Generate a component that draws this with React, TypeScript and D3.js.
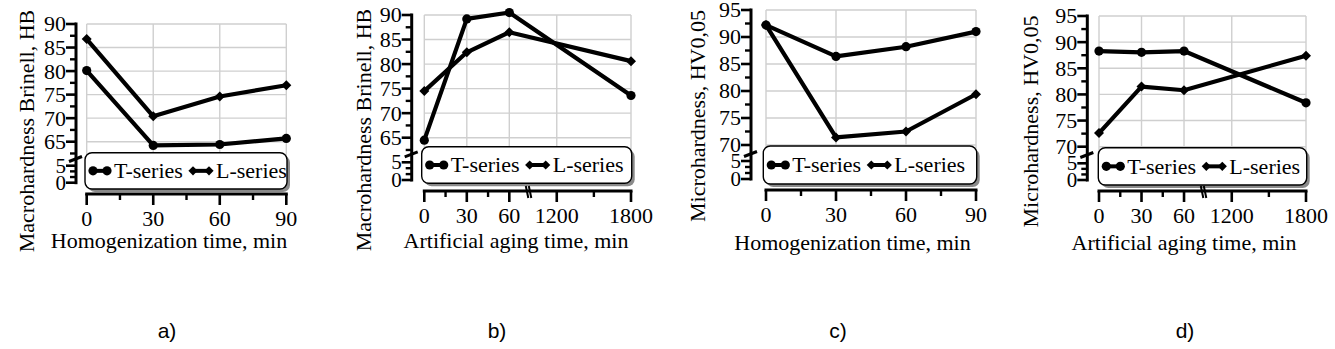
import React from "react";
import * as d3 from "d3";

// ---------- DATA ----------
const homogTimes = [0, 30, 60, 90];
const agingTimes = [0, 30, 60, 1800];

const aT = [80.1, 64.2, 64.4, 65.7];
const aL = [86.8, 70.4, 74.6, 77.0];
const bT = [64.5, 89.2, 90.5, 73.6];
const bL = [74.5, 82.4, 86.5, 80.6];
const cT = [92.2, 86.4, 88.2, 91.0];
const cL = [92.2, 71.4, 72.5, 79.4];
const dT = [88.3, 88.05, 88.3, 78.4];
const dL = [72.6, 81.5, 80.8, 87.4];

const homogTicks = [0, 30, 60, 90];
const homogMinor = [15, 45, 75];
const agingTicks = [0, 30, 60, 1200, 1800];
const agingMinor = [15, 45, 1500];

const hbTicks = [65, 70, 75, 80, 85, 90];
const hvTicks = [70, 75, 80, 85, 90, 95];
const lowTicks = [0, 5];
const lowMinor = [5 / 3, 10 / 3];

const seriesNames = ["T-series", "L-series"];
const panelLabels = ["a)", "b)", "c)", "d)"];
const yTitles = ["Macrohardness Brinell, HB", "Macrohardness Brinell, HB", "Microhardness, HV0,05", "Microhardness, HV0,05"];
const xTitles = ["Homogenization time, min", "Artificial aging time, min", "Homogenization time, min", "Artificial aging time, min"];

// ---------- LAYOUT ----------
const SERIF = "'Liberation Serif', 'Times New Roman', serif";
const SANS = "'Liberation Sans', Arial, sans-serif";

type Panel = {
  xs: number[]; T: number[]; L: number[];
  xTicks: number[]; xMinor: number[];
  xDomain: number[]; xRange: number[]; breakX?: number;
  yTicks: number[]; yHiPx: number; yLoPx: number; axisX: number; breakY: number;
  lowZero: number; lowFive: number; xAxisY: number;
  legend: [number, number, number, number];
  yTitle: string; xTitle: string; yTitleX: number; yTitleY: number; xTitleX: number; xTitleY: number;
  label: string; labelX: number;
};

const panels: Panel[] = [
  {
    xs: homogTimes, T: aT, L: aL, xTicks: homogTicks, xMinor: homogMinor,
    xDomain: [0, 90], xRange: [86.7, 286.3],
    yTicks: hbTicks, yHiPx: 24, yLoPx: 141.7, axisX: 76, breakY: 159,
    lowZero: 182.7, lowFive: 165.7, xAxisY: 194,
    legend: [85, 152.7, 202, 36.3],
    yTitle: yTitles[0], xTitle: xTitles[0], yTitleX: 27, yTitleY: 131, xTitleX: 169, xTitleY: 248,
    label: panelLabels[0], labelX: 167,
  },
  {
    xs: agingTimes, T: bT, L: bL, xTicks: agingTicks, xMinor: agingMinor,
    xDomain: [0, 73.4, 970, 1800], xRange: [424.3, 528.3, 528.3, 631], breakX: 528.3,
    yTicks: hbTicks, yHiPx: 15, yLoPx: 137.7, axisX: 411.7, breakY: 154.3,
    lowZero: 180, lowFive: 162.3, xAxisY: 191,
    legend: [421.7, 146.7, 210, 36.6],
    yTitle: yTitles[1], xTitle: xTitles[1], yTitleX: 363.3, yTitleY: 130, xTitleX: 516, xTitleY: 248,
    label: panelLabels[1], labelX: 497,
  },
  {
    xs: homogTimes, T: cT, L: cL, xTicks: homogTicks, xMinor: homogMinor,
    xDomain: [0, 90], xRange: [766, 976],
    yTicks: hvTicks, yHiPx: 10, yLoPx: 145, axisX: 751, breakY: 154,
    lowZero: 179, lowFive: 161, xAxisY: 190,
    legend: [763.3, 146, 213.4, 38],
    yTitle: yTitles[2], xTitle: xTitles[2], yTitleX: 698, yTitleY: 116, xTitleX: 852.5, xTitleY: 250,
    label: panelLabels[2], labelX: 838,
  },
  {
    xs: agingTimes, T: dT, L: dL, xTicks: agingTicks, xMinor: agingMinor,
    xDomain: [0, 73.6, 970, 1800], xRange: [1099, 1203.3, 1203.3, 1306], breakX: 1203.3,
    yTicks: hvTicks, yHiPx: 16, yLoPx: 146.7, axisX: 1087.3, breakY: 155,
    lowZero: 180, lowFive: 163.3, xAxisY: 191,
    legend: [1098.3, 147.7, 208.4, 37.3],
    yTitle: yTitles[3], xTitle: xTitles[3], yTitleX: 1030.7, yTitleY: 121.5, xTitleX: 1184, xTitleY: 250,
    label: panelLabels[3], labelX: 1185,
  },
];

const Diamond = ({ x, y, s }: { x: number; y: number; s: number }) => (
  <path d={`M${x},${y - s}L${x + s},${y}L${x},${y + s}L${x - s},${y}Z`} fill="#000" />
);

function PanelView({ p }: { p: Panel }) {
  const hi = p.yTicks[p.yTicks.length - 1];
  const lo = p.yTicks[0];
  const y = d3.scaleLinear().domain([lo, hi]).range([p.yLoPx, p.yHiPx]);
  const yLow = d3.scaleLinear().domain([0, 5]).range([p.lowZero, p.lowFive]);
  const x = d3.scaleLinear().domain(p.xDomain).range(p.xRange);
  const breakVal = y.invert(p.breakY);
  const yMinor: number[] = [];
  for (let v = hi - 2.5; v > breakVal; v -= 5) yMinor.push(v);
  const x0 = x(p.xTicks[0]);
  const x1 = x(p.xTicks[p.xTicks.length - 1]);
  const line = d3.line<number>().x((_, i) => x(p.xs[i])).y((v) => y(v));
  const [lx, ly, lw, lh] = p.legend;
  const ty = ly + lh / 2;

  return (
    <g>
      {/* grid */}
      {p.xTicks.map((t) => (
        <line key={"gx" + t} x1={x(t)} x2={x(t)} y1={p.yHiPx} y2={p.breakY + 8} stroke="#cfcfcf" strokeWidth={1.4} />
      ))}
      {[...p.yTicks, lo - 5].map((t) => (
        <line key={"gy" + t} x1={x0} x2={x1} y1={y(t)} y2={y(t)} stroke="#cfcfcf" strokeWidth={1.4} />
      ))}
      {/* lines */}
      <path d={line(p.L) || ""} fill="none" stroke="#000" strokeWidth={4.2} strokeLinejoin="round" />
      <path d={line(p.T) || ""} fill="none" stroke="#000" strokeWidth={4.2} strokeLinejoin="round" />
      {p.T.map((v, i) => (
        <circle key={"tc" + i} cx={x(p.xs[i])} cy={y(v)} r={4.6} fill="#000" />
      ))}
      {p.L.map((v, i) => (
        <Diamond key={"ld" + i} x={x(p.xs[i])} y={y(v)} s={5} />
      ))}
      {/* y axis */}
      <line x1={p.axisX} x2={p.axisX} y1={p.yHiPx - 1.5} y2={p.lowZero + 1.5} stroke="#000" strokeWidth={3} />
      {p.yTicks.map((t) => (
        <g key={"yt" + t}>
          <line x1={p.axisX - 10} x2={p.axisX} y1={y(t)} y2={y(t)} stroke="#000" strokeWidth={2.6} />
          <text x={p.axisX - 10} y={y(t)} dy="0.34em" textAnchor="end" fontFamily={SERIF} fontSize={22}>{t}</text>
        </g>
      ))}
      {yMinor.map((t) => (
        <line key={"ym" + t} x1={p.axisX - 6} x2={p.axisX} y1={y(t)} y2={y(t)} stroke="#000" strokeWidth={2.4} />
      ))}
      {lowTicks.map((t) => (
        <g key={"lt" + t}>
          <line x1={p.axisX - 10} x2={p.axisX} y1={yLow(t)} y2={yLow(t)} stroke="#000" strokeWidth={2.6} />
          <text x={p.axisX - 10} y={yLow(t)} dy="0.34em" textAnchor="end" fontFamily={SERIF} fontSize={21}>{t}</text>
        </g>
      ))}
      {lowMinor.map((t) => (
        <line key={"lm" + t} x1={p.axisX - 6} x2={p.axisX} y1={yLow(t)} y2={yLow(t)} stroke="#000" strokeWidth={2.4} />
      ))}
      {/* y break */}
      <line x1={p.axisX - 7} x2={p.axisX + 6} y1={p.breakY + 2.5} y2={p.breakY - 2.5} stroke="#000" strokeWidth={3} />
      {/* legend */}
      <rect x={lx + 3} y={ly + 3} width={lw} height={lh} rx={7} fill="#8a8a8a" />
      <rect x={lx} y={ly} width={lw} height={lh} rx={7} fill="#fff" stroke="#000" strokeWidth={1.4} />
      <line x1={lx + 8} x2={lx + 22} y1={ty} y2={ty} stroke="#000" strokeWidth={4} />
      <circle cx={lx + 8} cy={ty} r={4.6} fill="#000" />
      <circle cx={lx + 22} cy={ty} r={4.6} fill="#000" />
      <text x={lx + 29} y={ty} dy="0.34em" fontFamily={SERIF} fontSize={22}>{seriesNames[0]}</text>
      <line x1={lx + 108} x2={lx + 124} y1={ty} y2={ty} stroke="#000" strokeWidth={4} />
      <Diamond x={lx + 108} y={ty} s={4.6} />
      <Diamond x={lx + 124} y={ty} s={4.6} />
      <text x={lx + 131} y={ty} dy="0.34em" fontFamily={SERIF} fontSize={22}>{seriesNames[1]}</text>
      {/* x axis */}
      <line x1={x0 - 1.5} x2={x1 + 1.5} y1={p.xAxisY} y2={p.xAxisY} stroke="#000" strokeWidth={3} />
      {p.xTicks.map((t) => (
        <g key={"xt" + t}>
          <line x1={x(t)} x2={x(t)} y1={p.xAxisY} y2={p.xAxisY + 11} stroke="#000" strokeWidth={2.6} />
          <text x={x(t)} y={p.xAxisY + 32} textAnchor="middle" fontFamily={SERIF} fontSize={22}>{t}</text>
        </g>
      ))}
      {p.xMinor.map((t) => (
        <line key={"xm" + t} x1={x(t)} x2={x(t)} y1={p.xAxisY} y2={p.xAxisY + 6} stroke="#000" strokeWidth={2.4} />
      ))}
      {p.breakX !== undefined && (
        <g>
          <line x1={p.breakX - 2.5} x2={p.breakX} y1={p.xAxisY - 5} y2={p.xAxisY + 7} stroke="#000" strokeWidth={2} />
          <line x1={p.breakX + 0.5} x2={p.breakX + 3} y1={p.xAxisY - 5} y2={p.xAxisY + 7} stroke="#000" strokeWidth={2} />
        </g>
      )}
      {/* titles */}
      <text x={p.xTitleX} y={p.xTitleY} textAnchor="middle" fontFamily={SERIF} fontSize={22}>{p.xTitle}</text>
      <text transform={`translate(${p.yTitleX},${p.yTitleY}) rotate(-90)`} dy="0.34em" textAnchor="middle" fontFamily={SERIF} fontSize={22}>{p.yTitle}</text>
      <text x={p.labelX} y={338} textAnchor="middle" fontFamily={SANS} fontSize={21}>{p.label}</text>
    </g>
  );
}

export default function App() {
  return (
    <div style={{ position: "absolute", left: 0, top: 0 }}>
      <svg width={1335} height={349} style={{ display: "block", background: "#fff" }}>
        {panels.map((p, i) => (
          <PanelView key={i} p={p} />
        ))}
      </svg>
    </div>
  );
}
